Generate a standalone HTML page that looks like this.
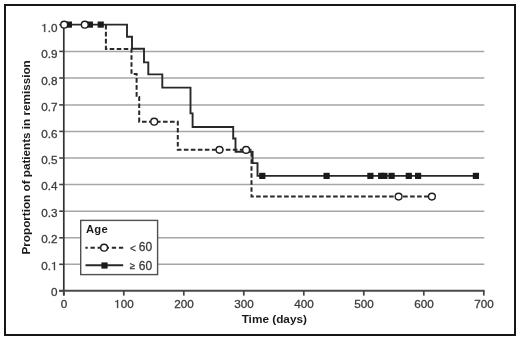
<!DOCTYPE html><html><head><meta charset="utf-8"><style>html,body{margin:0;padding:0;background:#fff;width:520px;height:340px;overflow:hidden}svg{display:block;will-change:transform}text{font-family:"Liberation Sans",sans-serif}</style></head><body>
<svg width="520" height="340" viewBox="0 0 520 340">
<rect x="0" y="0" width="520" height="340" fill="#fff"/>
<rect x="5" y="5" width="510" height="330" fill="none" stroke="#161616" stroke-width="2"/>
<line x1="63.8" y1="264.30" x2="484.3" y2="264.30" stroke="#a6a6a6" stroke-width="1.5"/>
<line x1="63.8" y1="237.80" x2="484.3" y2="237.80" stroke="#a6a6a6" stroke-width="1.5"/>
<line x1="63.8" y1="211.20" x2="484.3" y2="211.20" stroke="#a6a6a6" stroke-width="1.5"/>
<line x1="63.8" y1="184.50" x2="484.3" y2="184.50" stroke="#a6a6a6" stroke-width="1.5"/>
<line x1="63.8" y1="158.00" x2="484.3" y2="158.00" stroke="#a6a6a6" stroke-width="1.5"/>
<line x1="63.8" y1="131.40" x2="484.3" y2="131.40" stroke="#a6a6a6" stroke-width="1.5"/>
<line x1="63.8" y1="104.90" x2="484.3" y2="104.90" stroke="#a6a6a6" stroke-width="1.5"/>
<line x1="63.8" y1="78.00" x2="484.3" y2="78.00" stroke="#a6a6a6" stroke-width="1.5"/>
<line x1="63.8" y1="51.40" x2="484.3" y2="51.40" stroke="#a6a6a6" stroke-width="1.5"/>
<line x1="63.8" y1="24.6" x2="63.8" y2="295.6" stroke="#333" stroke-width="1.7"/>
<line x1="59.2" y1="290.8" x2="484.6" y2="290.8" stroke="#4a4a4a" stroke-width="1.9"/>
<line x1="59.2" y1="290.80" x2="63.8" y2="290.80" stroke="#444" stroke-width="1.6"/>
<line x1="59.2" y1="264.30" x2="63.8" y2="264.30" stroke="#444" stroke-width="1.6"/>
<line x1="59.2" y1="237.80" x2="63.8" y2="237.80" stroke="#444" stroke-width="1.6"/>
<line x1="59.2" y1="211.20" x2="63.8" y2="211.20" stroke="#444" stroke-width="1.6"/>
<line x1="59.2" y1="184.50" x2="63.8" y2="184.50" stroke="#444" stroke-width="1.6"/>
<line x1="59.2" y1="158.00" x2="63.8" y2="158.00" stroke="#444" stroke-width="1.6"/>
<line x1="59.2" y1="131.40" x2="63.8" y2="131.40" stroke="#444" stroke-width="1.6"/>
<line x1="59.2" y1="104.90" x2="63.8" y2="104.90" stroke="#444" stroke-width="1.6"/>
<line x1="59.2" y1="78.00" x2="63.8" y2="78.00" stroke="#444" stroke-width="1.6"/>
<line x1="59.2" y1="51.40" x2="63.8" y2="51.40" stroke="#444" stroke-width="1.6"/>
<line x1="59.2" y1="24.70" x2="63.8" y2="24.70" stroke="#444" stroke-width="1.6"/>
<line x1="63.80" y1="290.8" x2="63.80" y2="295.6" stroke="#444" stroke-width="1.7"/>
<line x1="123.80" y1="290.8" x2="123.80" y2="295.6" stroke="#444" stroke-width="1.7"/>
<line x1="183.80" y1="290.8" x2="183.80" y2="295.6" stroke="#444" stroke-width="1.7"/>
<line x1="243.80" y1="290.8" x2="243.80" y2="295.6" stroke="#444" stroke-width="1.7"/>
<line x1="303.80" y1="290.8" x2="303.80" y2="295.6" stroke="#444" stroke-width="1.7"/>
<line x1="363.80" y1="290.8" x2="363.80" y2="295.6" stroke="#444" stroke-width="1.7"/>
<line x1="423.80" y1="290.8" x2="423.80" y2="295.6" stroke="#444" stroke-width="1.7"/>
<line x1="483.80" y1="290.8" x2="483.80" y2="295.6" stroke="#444" stroke-width="1.7"/>
<text x="57.50" y="296.05" font-size="11.7" text-anchor="end" fill="#3c3c3c" stroke="#3c3c3c" stroke-width="0.3">0</text>
<text x="57.50" y="269.63" font-size="11.7" text-anchor="end" fill="#3c3c3c" stroke="#3c3c3c" stroke-width="0.3">0.&#x2007;</text>
<path d="M515,0 L696,0 L696,1409 L560,1409 C520,1280 380,1200 190,1190 L190,1060 C330,1060 440,1080 515,1130 Z" transform="translate(50.993,270) scale(0.005713,-0.005713)" fill="#3c3c3c" stroke="#3c3c3c" stroke-width="52.5"/>
<text x="57.50" y="243.21" font-size="11.7" text-anchor="end" fill="#3c3c3c" stroke="#3c3c3c" stroke-width="0.3">0.2</text>
<text x="57.50" y="216.79" font-size="11.7" text-anchor="end" fill="#3c3c3c" stroke="#3c3c3c" stroke-width="0.3">0.3</text>
<text x="57.50" y="190.37" font-size="11.7" text-anchor="end" fill="#3c3c3c" stroke="#3c3c3c" stroke-width="0.3">0.4</text>
<text x="57.50" y="163.95" font-size="11.7" text-anchor="end" fill="#3c3c3c" stroke="#3c3c3c" stroke-width="0.3">0.5</text>
<text x="57.50" y="137.53" font-size="11.7" text-anchor="end" fill="#3c3c3c" stroke="#3c3c3c" stroke-width="0.3">0.6</text>
<text x="57.50" y="111.11" font-size="11.7" text-anchor="end" fill="#3c3c3c" stroke="#3c3c3c" stroke-width="0.3">0.7</text>
<text x="57.50" y="84.69" font-size="11.7" text-anchor="end" fill="#3c3c3c" stroke="#3c3c3c" stroke-width="0.3">0.8</text>
<text x="57.50" y="58.27" font-size="11.7" text-anchor="end" fill="#3c3c3c" stroke="#3c3c3c" stroke-width="0.3">0.9</text>
<text x="57.50" y="31.85" font-size="11.7" text-anchor="end" fill="#3c3c3c" stroke="#3c3c3c" stroke-width="0.3">&#x2007;.0</text>
<path d="M515,0 L696,0 L696,1409 L560,1409 C520,1280 380,1200 190,1190 L190,1060 C330,1060 440,1080 515,1130 Z" transform="translate(41.235,32) scale(0.005713,-0.005713)" fill="#3c3c3c" stroke="#3c3c3c" stroke-width="52.5"/>
<text x="63.90" y="307.70" font-size="11.7" text-anchor="middle" fill="#3c3c3c" stroke="#3c3c3c" stroke-width="0.3">0</text>
<text x="123.90" y="307.70" font-size="11.7" text-anchor="middle" fill="#3c3c3c" stroke="#3c3c3c" stroke-width="0.3">&#x2007;00</text>
<path d="M515,0 L696,0 L696,1409 L560,1409 C520,1280 380,1200 190,1190 L190,1060 C330,1060 440,1080 515,1130 Z" transform="translate(114.140,308) scale(0.005713,-0.005713)" fill="#3c3c3c" stroke="#3c3c3c" stroke-width="52.5"/>
<text x="183.90" y="307.70" font-size="11.7" text-anchor="middle" fill="#3c3c3c" stroke="#3c3c3c" stroke-width="0.3">200</text>
<text x="243.90" y="307.70" font-size="11.7" text-anchor="middle" fill="#3c3c3c" stroke="#3c3c3c" stroke-width="0.3">300</text>
<text x="303.90" y="307.70" font-size="11.7" text-anchor="middle" fill="#3c3c3c" stroke="#3c3c3c" stroke-width="0.3">400</text>
<text x="363.90" y="307.70" font-size="11.7" text-anchor="middle" fill="#3c3c3c" stroke="#3c3c3c" stroke-width="0.3">500</text>
<text x="423.90" y="307.70" font-size="11.7" text-anchor="middle" fill="#3c3c3c" stroke="#3c3c3c" stroke-width="0.3">600</text>
<text x="483.90" y="307.70" font-size="11.7" text-anchor="middle" fill="#3c3c3c" stroke="#3c3c3c" stroke-width="0.3">700</text>
<text x="274.3" y="323.0" font-size="11.8" font-weight="bold" text-anchor="middle" fill="#1a1a1a">Time (days)</text>
<text transform="translate(30.3,157.4) rotate(-90)" x="0" y="0" font-size="11.7" font-weight="bold" text-anchor="middle" fill="#1a1a1a">Proportion of patients in remission</text>
<polyline points="105.9,24.6 105.9,49.0 131.5,49.0 131.5,74.0 136.6,74.0 136.6,97.0 139.2,97.0 139.2,121.7 177.8,121.7 177.8,149.85 251.5,149.85 251.5,196.6 431.9,196.6" fill="none" stroke="#282828" stroke-width="2" stroke-dasharray="4.6 2.4000000000000004" stroke-dashoffset="6.80" stroke-linejoin="miter"/>
<polyline points="63.8,24.6 127,24.6 127,36.8 132,36.8 132,48.8 144.0,48.8 144.0,62.4 148.3,62.4 148.3,74.4 162.3,74.4 162.3,87.6 190.5,87.6 190.5,113.4 192.6,113.4 192.6,127 233.2,127 233.2,138.5 235.5,138.5 235.5,151.8 252.6,151.8 252.6,163.1 257.5,163.1 257.5,175.9 476,175.9" fill="none" stroke="#282828" stroke-width="1.9" stroke-linejoin="miter"/>
<rect x="65.80" y="21.50" width="6.2" height="6.2" fill="#1a1a1a"/>
<rect x="86.80" y="21.50" width="6.2" height="6.2" fill="#1a1a1a"/>
<rect x="97.60" y="21.50" width="6.2" height="6.2" fill="#1a1a1a"/>
<rect x="259.20" y="172.80" width="6.2" height="6.2" fill="#1a1a1a"/>
<rect x="323.50" y="172.80" width="6.2" height="6.2" fill="#1a1a1a"/>
<rect x="367.30" y="172.80" width="6.2" height="6.2" fill="#1a1a1a"/>
<rect x="378.10" y="172.80" width="6.2" height="6.2" fill="#1a1a1a"/>
<rect x="381.30" y="172.80" width="6.2" height="6.2" fill="#1a1a1a"/>
<rect x="388.50" y="172.80" width="6.2" height="6.2" fill="#1a1a1a"/>
<rect x="405.70" y="172.80" width="6.2" height="6.2" fill="#1a1a1a"/>
<rect x="415.00" y="172.80" width="6.2" height="6.2" fill="#1a1a1a"/>
<rect x="472.80" y="172.80" width="6.2" height="6.2" fill="#1a1a1a"/>
<circle cx="64.2" cy="24.7" r="3.4" fill="#fff" stroke="#1e1e1e" stroke-width="1.4"/>
<circle cx="84.8" cy="24.7" r="3.4" fill="#fff" stroke="#1e1e1e" stroke-width="1.4"/>
<circle cx="154.2" cy="121.7" r="3.4" fill="#fff" stroke="#1e1e1e" stroke-width="1.4"/>
<circle cx="219.5" cy="149.85" r="3.4" fill="#fff" stroke="#1e1e1e" stroke-width="1.4"/>
<circle cx="246.1" cy="149.9" r="3.4" fill="#fff" stroke="#1e1e1e" stroke-width="1.4"/>
<circle cx="398.6" cy="196.6" r="3.4" fill="#fff" stroke="#1e1e1e" stroke-width="1.4"/>
<circle cx="431.9" cy="196.6" r="3.4" fill="#fff" stroke="#1e1e1e" stroke-width="1.4"/>
<rect x="80.7" y="220.4" width="76.9" height="54.2" fill="#fff" stroke="#505050" stroke-width="1.4"/>
<text x="86.0" y="233.1" font-size="11.2" letter-spacing="0.25" font-weight="bold" fill="#1a1a1a">Age</text>
<line x1="123.2" y1="247.7" x2="85.4" y2="247.7" stroke="#282828" stroke-width="2" stroke-dasharray="4.3 2.8"/>
<circle cx="104.1" cy="247.7" r="3.4" fill="#fff" stroke="#1e1e1e" stroke-width="1.4"/>
<line x1="85.5" y1="265.3" x2="123.2" y2="265.3" stroke="#282828" stroke-width="1.9"/>
<rect x="101.40" y="262.40" width="6.2" height="6.2" fill="#1a1a1a"/>
<text x="132.8" y="252.3" font-size="10" text-anchor="middle" fill="#3c3c3c" stroke="#3c3c3c" stroke-width="0.3">&lt;</text>
<text x="132.35" y="269.0" font-size="9.5" text-anchor="middle" fill="#3c3c3c" stroke="#3c3c3c" stroke-width="0.3">≥</text>
<text x="138.8" y="251.3" font-size="12" fill="#3c3c3c" stroke="#3c3c3c" stroke-width="0.3">60</text>
<text x="138.8" y="269.8" font-size="12" fill="#3c3c3c" stroke="#3c3c3c" stroke-width="0.3">60</text>
</svg></body></html>
